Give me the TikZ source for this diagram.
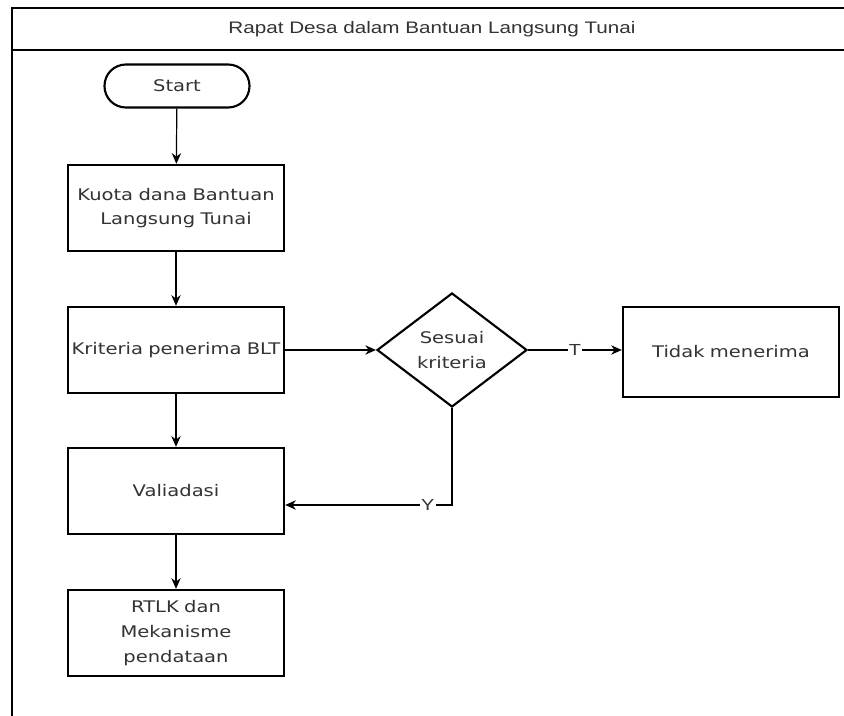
\documentclass[tikz,border=0pt]{standalone}
\usepackage{fontspec}
\setmainfont{Liberation Sans}
\newfontfamily\titlefont[FakeStretch=1.24]{Liberation Sans}
\newfontfamily\boxfont[FakeStretch=1.22]{DejaVu Sans}
\usetikzlibrary{arrows.meta,shapes.geometric}
\begin{document}
\begin{tikzpicture}[x=0.75pt,y=-0.75pt,
  font=\boxfont\fontsize{12}{18.5}\selectfont,
  text=black!80,
  box/.style={draw,line width=1.8pt,minimum width=162pt,minimum height=64.5pt,
    align=center,inner sep=1pt,text width=160pt},
  term/.style={draw,line width=1.6pt,rounded corners=16pt,minimum width=108.75pt,
    minimum height=32.25pt},
  decision/.style={draw,diamond,line width=1.6pt,aspect=1.32,inner sep=0pt,
    minimum width=112.5pt,minimum height=85.5pt,align=center},
  arr/.style={-{Stealth[length=8pt,width=7pt]},line width=0.9pt},
  lbl/.style={fill=white,inner sep=1pt,font=\titlefont\fontsize{12}{13}\selectfont}]
\useasboundingbox (0,0) rectangle (844,716);
% swimlane frame
\draw[line width=1.8pt] (12,720) -- (12,8) -- (850,8);
\draw[line width=1.6pt] (12,50) -- (850,50);
\node[font=\titlefont\fontsize{12.5}{14}\selectfont] (title) at (432,29)
  {Rapat Desa dalam Bantuan Langsung Tunai};
% flow nodes
\node[term] (start) at (177,86) {Start};
\node[box] (kuota) at (176,208) {Kuota dana Bantuan\\Langsung Tunai};
\node[box] (krit) at (176,350) {Kriteria penerima BLT};
\node[decision] (dec) at (452,350) {Sesuai\\kriteria};
\node[box,minimum width=160pt,minimum height=67.5pt] (tidak) at (731,352) {Tidak menerima};
\node[box] (val) at (176,491) {Valiadasi};
\node[box] (rtlk) at (176,633) {RTLK dan\\Mekanisme\\pendataan};
% connectors
\draw[arr] (start) -- (kuota);
\draw[arr] (kuota) -- (krit);
\draw[arr] (krit) -- (dec);
\draw[arr] (dec.east) -- (dec.east -| tidak.west) node[lbl,midway] {T};
\draw[arr] (krit) -- (val);
\draw[arr] (dec.south) |- ([yshift=-10.5pt]val.east) node[lbl,pos=0.573] {Y};
\draw[arr] (val) -- (rtlk);
\end{tikzpicture}
\end{document}
